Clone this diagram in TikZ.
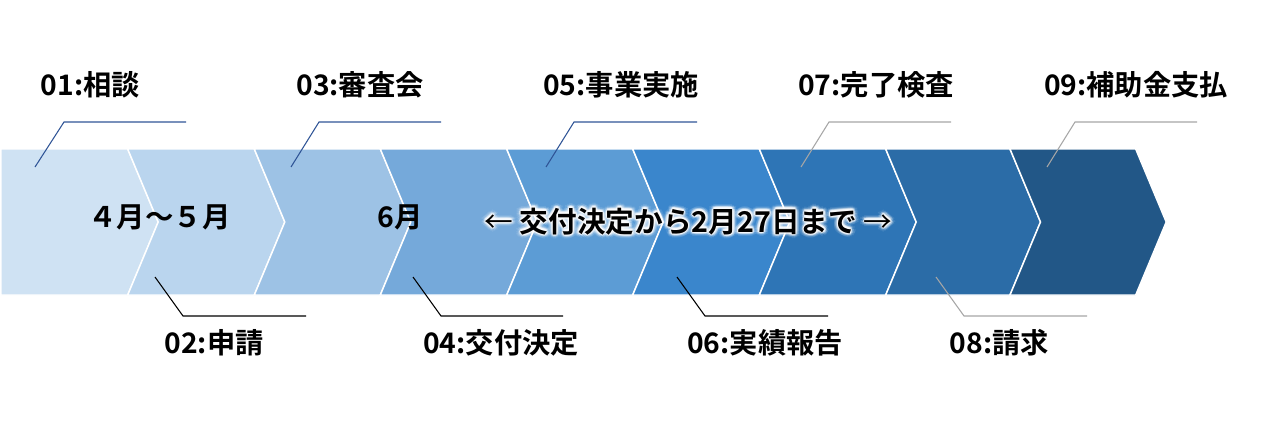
\documentclass[tikz,border=0pt]{standalone}
\usepackage{fontspec}
\newfontfamily\jpb{Noto Sans CJK JP Bold}
\newfontfamily\jpr{Noto Sans CJK JP}
\definecolor{c1}{RGB}{207,226,243}
\definecolor{c2}{RGB}{186,213,238}
\definecolor{c3}{RGB}{157,194,229}
\definecolor{c4}{RGB}{117,169,218}
\definecolor{c5}{RGB}{92,156,213}
\definecolor{c6}{RGB}{58,134,204}
\definecolor{c7}{RGB}{46,117,182}
\definecolor{c8}{RGB}{43,108,167}
\definecolor{c9}{RGB}{34,87,135}
\definecolor{leadblue}{RGB}{47,84,150}
\definecolor{leadgray}{RGB}{166,166,166}
\begin{document}
\begin{tikzpicture}[x=0.75pt,y=-0.75pt,
  chev/.style={draw=white,line width=1.1pt,line join=miter},
  lbl/.style={font=\jpb\fontsize{21.2}{24}\selectfont,inner sep=0pt,anchor=base},
  midtxt/.style={font=\jpb\fontsize{21.3}{24}\selectfont,inner sep=0pt,anchor=base},
  longtxt/.style={font=\jpb\fontsize{21.5}{24}\selectfont,inner sep=0pt,anchor=base},
  glow/.style={longtxt,text=white},
  leadB/.style={draw=leadblue,line width=0.8pt},
  leadK/.style={draw=black,line width=0.8pt},
  leadG/.style={draw=leadgray,line width=0.8pt}]
\useasboundingbox (0,0) rectangle (1280,446);
% chevrons
\def\T{149}\def\B{295}\def\M{222}\def\tp{30.5}
\path[chev,fill=c1] (1,\T) -- (127.7,\T) -- (127.7+\tp,\M) -- (127.7,\B) -- (1,\B) -- cycle;
\path[chev,fill=c2] (127.7,\T) -- (254.3,\T) -- (254.3+\tp,\M) -- (254.3,\B) -- (127.7,\B) -- (127.7+\tp,\M) -- cycle;
\path[chev,fill=c3] (254.3,\T) -- (380.3,\T) -- (380.3+\tp,\M) -- (380.3,\B) -- (254.3,\B) -- (254.3+\tp,\M) -- cycle;
\path[chev,fill=c4] (380.3,\T) -- (506.7,\T) -- (506.7+\tp,\M) -- (506.7,\B) -- (380.3,\B) -- (380.3+\tp,\M) -- cycle;
\path[chev,fill=c5] (506.7,\T) -- (632.7,\T) -- (632.7+\tp,\M) -- (632.7,\B) -- (506.7,\B) -- (506.7+\tp,\M) -- cycle;
\path[chev,fill=c6] (632.7,\T) -- (759.3,\T) -- (759.3+\tp,\M) -- (759.3,\B) -- (632.7,\B) -- (632.7+\tp,\M) -- cycle;
\path[chev,fill=c7] (759.3,\T) -- (885.7,\T) -- (885.7+\tp,\M) -- (885.7,\B) -- (759.3,\B) -- (759.3+\tp,\M) -- cycle;
\path[chev,fill=c8] (885.7,\T) -- (1010,\T) -- (1010+\tp,\M) -- (1010,\B) -- (885.7,\B) -- (885.7+\tp,\M) -- cycle;
\path[chev,fill=c9] (1010,\T) -- (1135.7,\T) -- (1135.7+\tp,\M) -- (1135.7,\B) -- (1010,\B) -- (1010+\tp,\M) -- cycle;
% labels
\node[lbl] (l1) at (90.5,95) {01:相談};
\node[lbl] (l3) at (360,95) {03:審査会};
\node[lbl] (l5) at (621,95) {05:事業実施};
\node[lbl] (l7) at (876,95) {07:完了検査};
\node[lbl] (l9) at (1136,95) {09:補助金支払};
\node[lbl] (l2) at (214,353) {02:申請};
\node[lbl] (l4) at (501,353) {04:交付決定};
\node[lbl] (l6) at (765,353) {06:実績報告};
\node[lbl] (l8) at (999.5,353) {08:請求};
% leader lines
\coordinate (a1) at (35,167);  \coordinate (k1) at (64,122);  \coordinate (e1) at (186,122);
\coordinate (a3) at (291,167); \coordinate (k3) at (319,122); \coordinate (e3) at (441,122);
\coordinate (a5) at (546,167); \coordinate (k5) at (574,122); \coordinate (e5) at (697,122);
\coordinate (a7) at (801,167); \coordinate (k7) at (829,122); \coordinate (e7) at (951,122);
\coordinate (a9) at (1047,167);\coordinate (k9) at (1075,122);\coordinate (e9) at (1197,122);
\coordinate (a2) at (155,277); \coordinate (k2) at (183,316); \coordinate (e2) at (306,316);
\coordinate (a4) at (413,277); \coordinate (k4) at (441,316); \coordinate (e4) at (563,316);
\coordinate (a6) at (677,277); \coordinate (k6) at (705,316); \coordinate (e6) at (828,316);
\coordinate (a8) at (936,277); \coordinate (k8) at (964,316); \coordinate (e8) at (1087,316);
\draw[leadB] (a1) -- (k1) -- (e1);
\draw[leadB] (a3) -- (k3) -- (e3);
\draw[leadB] (a5) -- (k5) -- (e5);
\draw[leadG] (a7) -- (k7) -- (e7);
\draw[leadG] (a9) -- (k9) -- (e9);
\draw[leadK] (a2) -- (k2) -- (e2);
\draw[leadK] (a4) -- (k4) -- (e4);
\draw[leadK] (a6) -- (k6) -- (e6);
\draw[leadG] (a8) -- (k8) -- (e8);
% middle texts
\node[midtxt] (m1) at (159.5,227) {４月～５月};
\node[midtxt] (m2) at (400.5,227) {6月};
\foreach \k in {0,30,...,330}{
  \node[glow,opacity=0.1,shift={(\k:4.5)}] (gA\k) at (688.5,232) {{\jpr ←} 交付決定から2月27日まで {\jpr →}};
  \node[glow,opacity=0.2,shift={(\k:2.8)}] (gB\k) at (688.5,232) {{\jpr ←} 交付決定から2月27日まで {\jpr →}};
  \node[glow,opacity=0.4,shift={(\k:1.3)}] (gC\k) at (688.5,232) {{\jpr ←} 交付決定から2月27日まで {\jpr →}};
}
\node[longtxt] (m3) at (688.5,232) {{\jpr ←} 交付決定から2月27日まで {\jpr →}};
\end{tikzpicture}
\end{document}
